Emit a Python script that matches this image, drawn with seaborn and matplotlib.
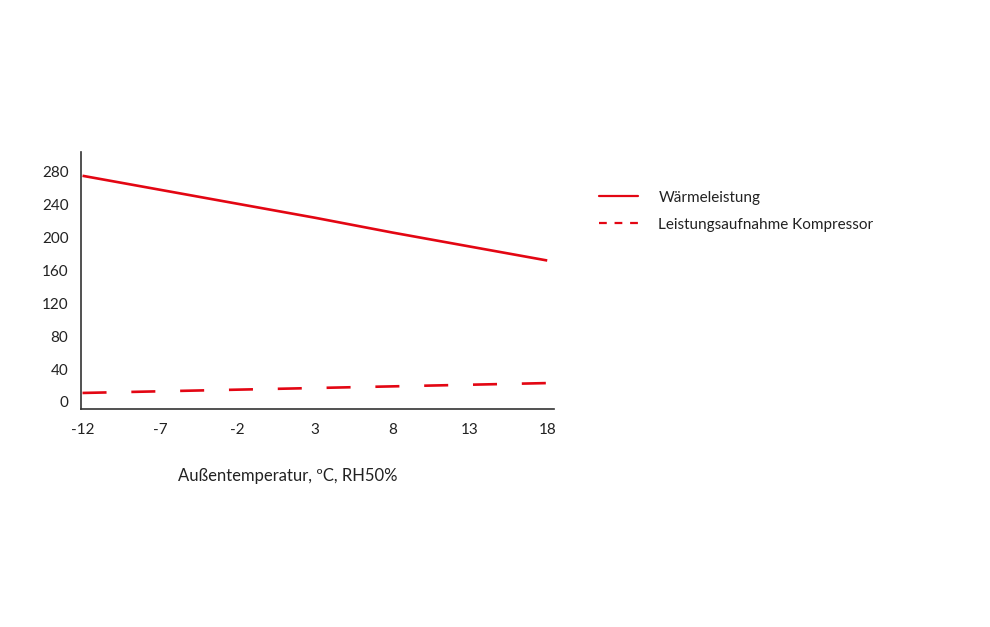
import pandas as pd
import numpy as np
import seaborn as sns
import matplotlib.pyplot as plt
from matplotlib.lines import Line2D

# Daten
temps = ["-12", "-7", "-2", "3", "8", "13", "18"]
waermeleistung = [275, 258, 241, 224, 206, 189, 172]
leistungsaufnahme = [11, 13, 15, 17, 19, 21, 23]
series_names = ["Wärmeleistung", "Leistungsaufnahme Kompressor"]
yticks = [0, 40, 80, 120, 160, 200, 240, 280]

red = "#e30613"
txt = "#222222"

df = pd.DataFrame({
    "temp": temps * 2,
    "pos": list(range(len(temps))) * 2,
    "wert": waermeleistung + leistungsaufnahme,
    "serie": [series_names[0]] * len(temps) + [series_names[1]] * len(temps),
})

sns.set_style("white")
plt.rcParams["font.family"] = ["Lato", "DejaVu Sans"]

fig = plt.figure(figsize=(9.9, 6.27), dpi=100)
ax = fig.add_axes([0.0818, 0.3477, 0.478, 0.41])

sns.lineplot(data=df, x="pos", y="wert", hue="serie", style="serie",
             palette=[red, red], dashes=[(1, 0), (9.1, 9.4)], linewidth=1.9,
             legend=False, ax=ax)

ax.set_xlim(-0.02, 6.09)
ax.set_ylim(-8.5, 304)
ax.set_xticks(range(len(temps)))
ax.set_xticklabels(temps)
ax.set_yticks(yticks)
ax.tick_params(axis="both", length=0, labelsize=11, colors=txt)
ax.tick_params(axis="x", pad=10)
ax.tick_params(axis="y", pad=9)
ax.set_xlabel("")
ax.set_ylabel("")
sns.despine(ax=ax)
for s in ["left", "bottom"]:
    ax.spines[s].set_color("#333333")
    ax.spines[s].set_linewidth(1.2)

fig.text(288 / 990, 1 - 476 / 627, "Außentemperatur, ºC, RH50%",
         ha="center", va="center", fontsize=12, color=txt)

handles = [Line2D([], [], color=red, lw=1.6),
           Line2D([], [], color=red, lw=1.6, dashes=(3.5, 3.5))]
fig.legend(handles, series_names, loc="upper left",
           bbox_to_anchor=(585 / 990, 1 - 177 / 627), frameon=False,
           fontsize=11, handlelength=2.6, handletextpad=1.3,
           labelspacing=0.85, labelcolor=txt)

plt.savefig("out.png", dpi=100)
